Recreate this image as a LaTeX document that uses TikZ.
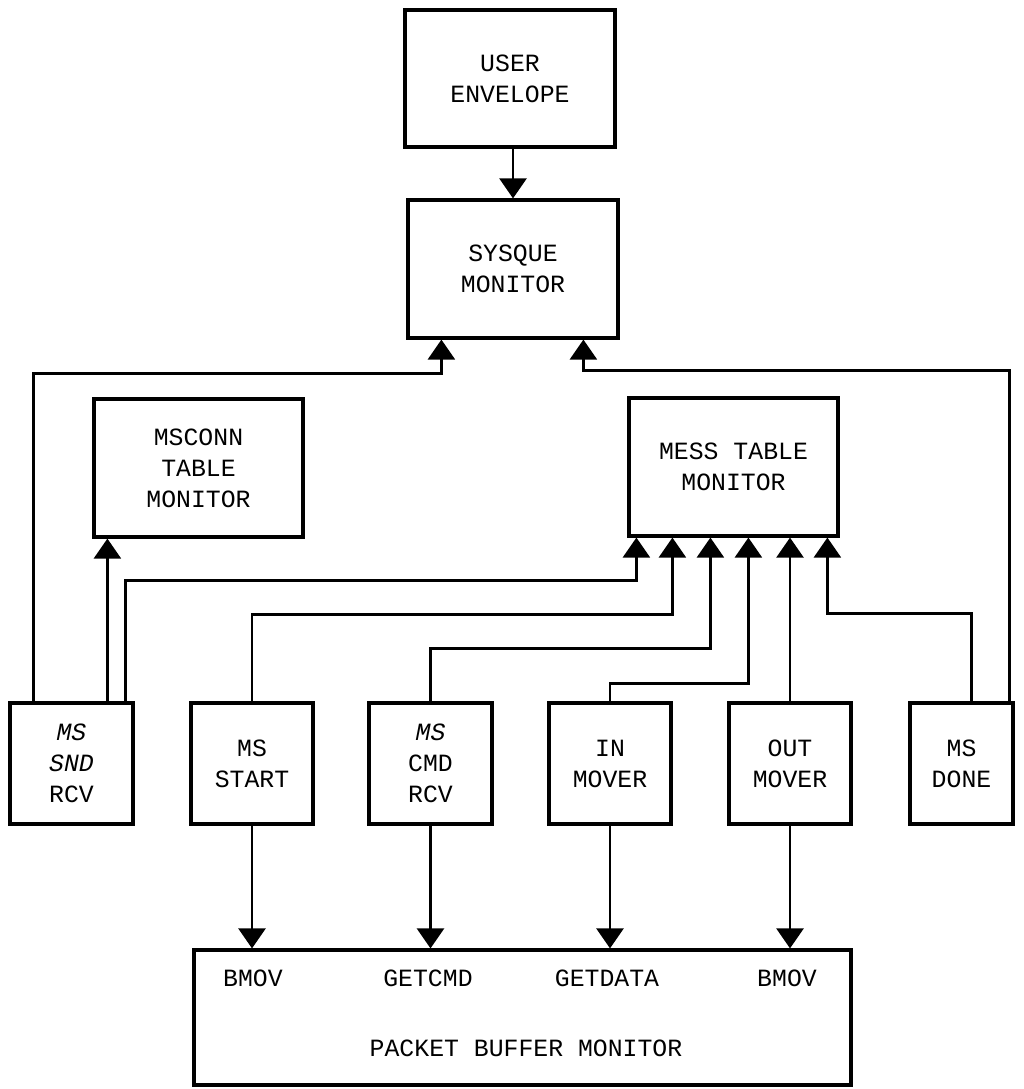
\documentclass[tikz,border=0pt]{standalone}
\usepackage{fontspec}
\setmonofont{Liberation Mono}
\usetikzlibrary{arrows.meta}
\begin{document}
\begin{tikzpicture}[x=1pt,y=-1pt,
  box/.style={draw,line width=3.2pt,inner sep=0pt,align=center,
    font=\ttfamily\fontsize{24.8}{31}\selectfont},
  lbl/.style={inner sep=0pt,font=\ttfamily\fontsize{24.8}{31}\selectfont},
  conn/.style={line width=2.6pt,-{Triangle[width=27pt,length=20pt]}}]
\useasboundingbox[fill=white] (0,0) rectangle (1023,1089);
% boxes
\node[box,minimum width=210pt,minimum height=137pt] (user) at (510,78.5) {USER\\ENVELOPE};
\node[box,minimum width=210pt,minimum height=138pt] (sysque) at (513,269) {SYSQUE\\MONITOR};
\node[box,minimum width=209pt,minimum height=138pt] (msconn) at (198.5,468) {MSCONN\\TABLE\\MONITOR};
\node[box,minimum width=209pt,minimum height=138pt] (mess) at (733.5,467) {MESS TABLE\\MONITOR};
\node[box,minimum width=123pt,minimum height=121pt] (sndrcv) at (71.5,763.5) {\itshape MS\\\itshape SND\\RCV};
\node[box,minimum width=122pt,minimum height=121pt] (start) at (252,763.5) {MS\\START};
\node[box,minimum width=123pt,minimum height=121pt] (cmdrcv) at (430.5,763.5) {\itshape MS\\CMD\\RCV};
\node[box,minimum width=122pt,minimum height=121pt] (inmover) at (610,763.5) {IN\\MOVER};
\node[box,minimum width=122pt,minimum height=121pt] (outmover) at (790,763.5) {OUT\\MOVER};
\node[box,minimum width=103pt,minimum height=121pt] (done) at (961.5,763.5) {MS\\DONE};
\node[box,minimum width=657pt,minimum height=135pt] (packet) at (522.5,1017.5) {};
\node[lbl] (l1) at (253,978) {BMOV};
\node[lbl] (l2) at (428,978) {GETCMD};
\node[lbl] (l3) at (607,978) {GETDATA};
\node[lbl] (l4) at (787,978) {BMOV};
\node[lbl] (l5) at (526,1048) {PACKET BUFFER MONITOR};
% connectors
\draw[conn] (sysque.north |- user.south) -- (sysque.north);
\draw[conn] ([xshift=25pt]sndrcv.north west) |- ([xshift=35pt,yshift=-34pt]sysque.south west) -- ([xshift=35pt]sysque.south west);
\draw[conn] ([xshift=-5pt]done.north east) |- ([xshift=177pt,yshift=-31pt]sysque.south west) -- ([xshift=177pt]sysque.south west);
\draw[conn] ([xshift=99pt]sndrcv.north west) -- ([xshift=15pt]msconn.south west);
\draw[conn] ([xshift=117pt]sndrcv.north west) |- ([xshift=9pt,yshift=-43pt]mess.south west) -- ([xshift=9pt]mess.south west);
\draw[conn] (start.north) |- ([xshift=45pt,yshift=-77pt]mess.south west) -- ([xshift=45pt]mess.south west);
\draw[conn] (cmdrcv.north) |- ([xshift=83pt,yshift=-111pt]mess.south west) -- ([xshift=83pt]mess.south west);
\draw[conn] (inmover.north) |- ([xshift=121pt,yshift=-146pt]mess.south west) -- ([xshift=121pt]mess.south west);
\draw[conn] (outmover.north) -- (outmover.north |- mess.south);
\draw[conn] ([xshift=63pt]done.north west) |- ([xshift=200pt,yshift=-76pt]mess.south west) -- ([xshift=200pt]mess.south west);
\draw[conn] (start.south) -- (start.south |- packet.north);
\draw[conn] (cmdrcv.south) -- (cmdrcv.south |- packet.north);
\draw[conn] (inmover.south) -- (inmover.south |- packet.north);
\draw[conn] (outmover.south) -- (outmover.south |- packet.north);
\end{tikzpicture}
\end{document}
